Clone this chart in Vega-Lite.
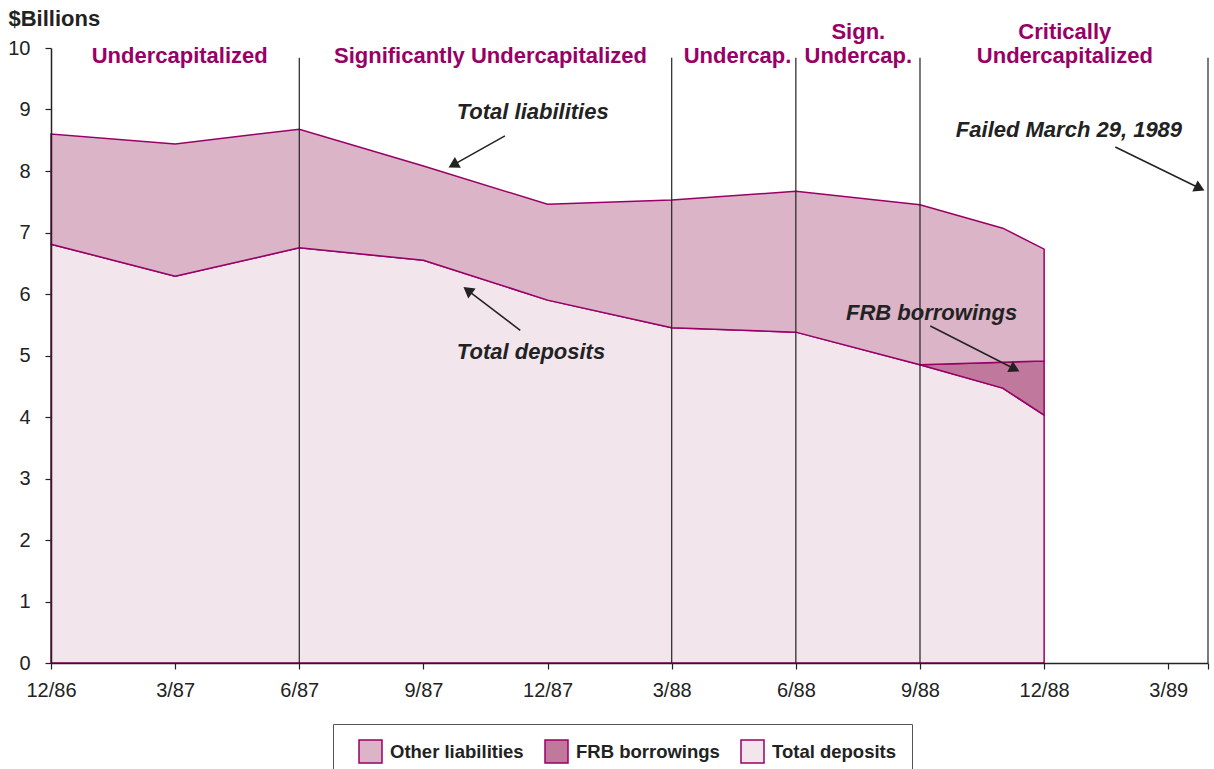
{
  "$schema": "https://vega.github.io/schema/vega-lite/v6.json",
  "width": 1157,
  "height": 615,
  "autosize": {"type": "none"},
  "padding": {"left": 51, "top": 48, "right": 6, "bottom": 106},
  "background": "white",
  "config": {"view": {"stroke": null}, "font": "Liberation Sans"},
  "datasets": {
    "areas": [
      {"series": "Total deposits", "m": 0, "lo": 0, "hi": 6.81},
      {"series": "Total deposits", "m": 3, "lo": 0, "hi": 6.29},
      {"series": "Total deposits", "m": 6, "lo": 0, "hi": 6.75},
      {"series": "Total deposits", "m": 9, "lo": 0, "hi": 6.55},
      {"series": "Total deposits", "m": 12, "lo": 0, "hi": 5.90},
      {"series": "Total deposits", "m": 15, "lo": 0, "hi": 5.45},
      {"series": "Total deposits", "m": 18, "lo": 0, "hi": 5.38},
      {"series": "Total deposits", "m": 21, "lo": 0, "hi": 4.85},
      {"series": "Total deposits", "m": 23, "lo": 0, "hi": 4.47},
      {"series": "Total deposits", "m": 24, "lo": 0, "hi": 4.03},
      {"series": "FRB borrowings", "m": 21, "lo": 4.85, "hi": 4.85},
      {"series": "FRB borrowings", "m": 23, "lo": 4.47, "hi": 4.89},
      {"series": "FRB borrowings", "m": 24, "lo": 4.03, "hi": 4.91},
      {"series": "Other liabilities", "m": 0, "lo": 6.81, "hi": 8.60},
      {"series": "Other liabilities", "m": 3, "lo": 6.29, "hi": 8.44},
      {"series": "Other liabilities", "m": 6, "lo": 6.75, "hi": 8.68},
      {"series": "Other liabilities", "m": 9, "lo": 6.55, "hi": 8.08},
      {"series": "Other liabilities", "m": 12, "lo": 5.90, "hi": 7.46},
      {"series": "Other liabilities", "m": 15, "lo": 5.45, "hi": 7.53},
      {"series": "Other liabilities", "m": 18, "lo": 5.38, "hi": 7.67},
      {"series": "Other liabilities", "m": 21, "lo": 4.85, "hi": 7.45},
      {"series": "Other liabilities", "m": 23, "lo": 4.89, "hi": 7.07},
      {"series": "Other liabilities", "m": 24, "lo": 4.91, "hi": 6.73}
    ],
    "phases": [{"m": 6}, {"m": 15}, {"m": 18}, {"m": 21}, {"m": 27.96}],
    "headers": [
      {"text": "Undercapitalized", "m": 3.11, "v": 9.87},
      {"text": "Significantly Undercapitalized", "m": 10.62, "v": 9.87},
      {"text": "Undercap.", "m": 16.59, "v": 9.87},
      {"text": "Sign.", "m": 19.51, "v": 10.26},
      {"text": "Undercap.", "m": 19.51, "v": 9.87},
      {"text": "Critically", "m": 24.50, "v": 10.26},
      {"text": "Undercapitalized", "m": 24.50, "v": 9.87}
    ],
    "notes": [
      {"text": "Total liabilities", "m": 11.64, "v": 8.96},
      {"text": "Total deposits", "m": 11.60, "v": 5.06},
      {"text": "FRB borrowings", "m": 21.28, "v": 5.69},
      {"text": "Failed March 29, 1989", "m": 24.60, "v": 8.67}
    ],
    "arrows": [
      {"id": "liab", "m0": 10.97, "v0": 8.57, "m1": 9.72, "v1": 8.10},
      {"id": "dep", "m0": 11.34, "v0": 5.41, "m1": 10.07, "v1": 6.06},
      {"id": "frb", "m0": 21.25, "v0": 5.48, "m1": 23.29, "v1": 4.78},
      {"id": "fail", "m0": 25.72, "v0": 8.39, "m1": 27.76, "v1": 7.72}
    ]
  },
  "layer": [
    {
      "data": {"name": "areas"},
      "mark": {"type": "area", "stroke": "#990066", "strokeWidth": 1.5, "fillOpacity": 1, "opacity": 1},
      "encoding": {
        "x": {
          "field": "m", "type": "quantitative",
          "scale": {"domain": [0, 27.96], "nice": false, "zero": false},
          "axis": {
            "title": null, "grid": false, "zindex": 1,
            "values": [0, 3, 6, 9, 12, 15, 18, 21, 24, 27, 27.96],
            "labelExpr": "datum.value > 27.5 ? '' : ['12/86','3/87','6/87','9/87','12/87','3/88','6/88','9/88','12/88','3/89'][round(datum.value/3)]",
            "domainColor": "#222", "domainWidth": 1.5, "tickColor": "#222", "tickSize": 6, "tickWidth": 1.2,
            "labelFontSize": 20, "labelColor": "#222", "labelPadding": 11, "labelFlush": false, "labelOverlap": false
          }
        },
        "y": {
          "field": "lo", "type": "quantitative",
          "scale": {"domain": [0, 10], "nice": false},
          "axis": {
            "title": "$Billions", "titleAngle": 0, "titleAlign": "left", "titleBaseline": "middle",
            "titleX": -43, "titleY": -30, "titleFontSize": 22, "titleFontWeight": "bold", "titleColor": "#222",
            "grid": false, "zindex": 1, "values": [0, 1, 2, 3, 4, 5, 6, 7, 8, 9, 10], "format": "d",
            "domainColor": "#222", "domainWidth": 1.5, "tickColor": "#222", "tickSize": 6, "tickWidth": 1.2,
            "labelFontSize": 20, "labelColor": "#222", "labelPadding": 15
          }
        },
        "y2": {"field": "hi"},
        "color": {
          "field": "series", "type": "nominal",
          "scale": {"domain": ["Other liabilities", "FRB borrowings", "Total deposits"], "range": ["#DBB4C8", "#C0789C", "#F3E5EC"]},
          "legend": {
            "orient": "none", "legendX": 282, "legendY": 676, "direction": "horizontal", "title": null,
            "strokeColor": "#555", "fillColor": "white", "padding": 15, "symbolOffset": 10,
            "symbolType": "square", "symbolSize": 529, "symbolStrokeColor": "#990066", "symbolStrokeWidth": 1.5, "symbolOpacity": 1,
            "labelFontSize": 18.5, "labelFontWeight": "bold", "labelColor": "#222", "labelOffset": 7, "columnPadding": 10
          }
        }
      }
    },
    {
      "data": {"name": "phases"},
      "mark": {"type": "rule", "color": "#222", "strokeWidth": 1.2},
      "encoding": {
        "x": {"field": "m", "type": "quantitative"},
        "y": {"datum": 0},
        "y2": {"datum": 9.84}
      }
    },
    {
      "data": {"name": "headers"},
      "mark": {"type": "text", "color": "#990066", "fontSize": 22, "fontWeight": "bold", "align": "center", "baseline": "middle"},
      "encoding": {
        "x": {"field": "m", "type": "quantitative"},
        "y": {"field": "v", "type": "quantitative"},
        "text": {"field": "text"}
      }
    },
    {
      "data": {"name": "notes"},
      "mark": {"type": "text", "color": "#222", "fontSize": 22, "fontWeight": "bold", "fontStyle": "italic", "align": "center", "baseline": "middle"},
      "encoding": {
        "x": {"field": "m", "type": "quantitative"},
        "y": {"field": "v", "type": "quantitative"},
        "text": {"field": "text"}
      }
    },
    {
      "data": {"name": "arrows"},
      "mark": {"type": "rule", "color": "#222", "strokeWidth": 1.5},
      "encoding": {
        "x": {"field": "m0", "type": "quantitative"},
        "y": {"field": "v0", "type": "quantitative"},
        "x2": {"field": "m1"},
        "y2": {"field": "v1"}
      }
    },
    {
      "data": {"name": "arrows"},
      "transform": [{"filter": "datum.id == 'liab'"}],
      "mark": {"type": "point", "shape": "triangle-up", "filled": true, "color": "#222", "opacity": 1, "size": 150, "angle": 241},
      "encoding": {"x": {"field": "m1", "type": "quantitative"}, "y": {"field": "v1", "type": "quantitative"}}
    },
    {
      "data": {"name": "arrows"},
      "transform": [{"filter": "datum.id == 'dep'"}],
      "mark": {"type": "point", "shape": "triangle-up", "filled": true, "color": "#222", "opacity": 1, "size": 150, "angle": 307},
      "encoding": {"x": {"field": "m1", "type": "quantitative"}, "y": {"field": "v1", "type": "quantitative"}}
    },
    {
      "data": {"name": "arrows"},
      "transform": [{"filter": "datum.id == 'frb'"}],
      "mark": {"type": "point", "shape": "triangle-up", "filled": true, "color": "#222", "opacity": 1, "size": 150, "angle": 117},
      "encoding": {"x": {"field": "m1", "type": "quantitative"}, "y": {"field": "v1", "type": "quantitative"}}
    },
    {
      "data": {"name": "arrows"},
      "transform": [{"filter": "datum.id == 'fail'"}],
      "mark": {"type": "point", "shape": "triangle-up", "filled": true, "color": "#222", "opacity": 1, "size": 150, "angle": 116},
      "encoding": {"x": {"field": "m1", "type": "quantitative"}, "y": {"field": "v1", "type": "quantitative"}}
    }
  ]
}
